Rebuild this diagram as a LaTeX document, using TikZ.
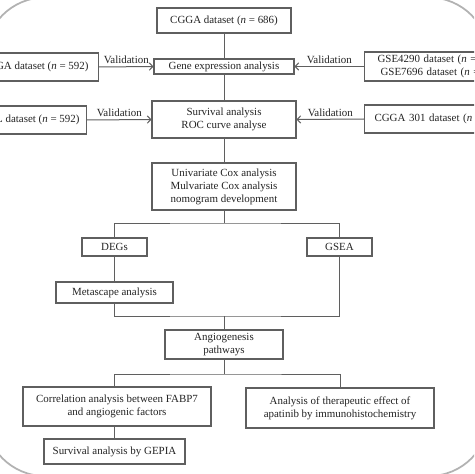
\documentclass[tikz,border=0pt]{standalone}
\usepackage{fontspec}
\setmainfont{Liberation Serif}
\usetikzlibrary{arrows.meta}
\definecolor{lnc}{RGB}{95,95,95}
\definecolor{txc}{RGB}{35,35,35}
\begin{document}
\begin{tikzpicture}[x=0.75pt,y=-0.75pt,
  every node/.style={text=txc,font=\fontsize{8.2pt}{9.8pt}\selectfont},
  box/.style={draw=lnc,line width=0.8pt,fill=white,inner sep=0pt,align=center},
  sidebox/.style={draw=lnc,line width=0.8pt,fill=white,inner ysep=0pt,minimum height=21pt},
  conn/.style={draw=lnc,line width=0.75pt},
  valarrow/.style={conn,-{Straight Barb[length=2.6pt,width=5.5pt]}},
  vlab/.style={above=0.8pt,inner sep=1pt},
  frame/.style={draw=gray!60,line width=1.3pt}]
\clip (0,0) rectangle (474,474);
\fill[white] (0,0) rectangle (474,474);
\draw[frame,rounded corners=45] (-15,-2.5) rectangle (489,476);

% main column
\node[box,minimum width=100.5pt,minimum height=18.75pt] (cgga) at (224,20.5) {CGGA dataset (\textit{n} = 686)};
\node[box,minimum width=105pt,minimum height=11.25pt] (gene) at (224,66.5) {Gene expression analysis};
\node[box,minimum width=108pt,minimum height=27.75pt] (surv) at (224,119.5) {Survival analysis\\ROC curve analyse};
\node[box,minimum width=108pt,minimum height=35.25pt] (uni) at (224,186.5) {Univariate Cox analysis\\Mulvariate Cox analysis\\nomogram development};
\node[box,minimum width=48.75pt,minimum height=13.5pt] (degs) at (114.5,247) {DEGs};
\node[box,minimum width=48.75pt,minimum height=13.5pt] (gsea) at (339.5,247) {GSEA};
\node[box,minimum width=87.75pt,minimum height=15.75pt] (meta) at (114.5,292.5) {Metascape analysis};
\node[box,minimum width=88.5pt,minimum height=21.75pt] (angio) at (224,344.5) {Angiogenesis\\pathways};
\node[box,minimum width=141pt,minimum height=29.25pt] (corr) at (117,406.5) {Correlation analysis between FABP7\\and angiogenic factors};
\node[box,minimum width=141pt,minimum height=30pt] (anal) at (340,408) {Analysis of therapeutic effect of\\apatinib by immunohistochemistry};
\node[box,minimum width=105.75pt,minimum height=18.75pt] (gepia) at (114.5,451.5) {Survival analysis by GEPIA};

% side boxes
\node[sidebox,anchor=east,inner xsep=7.5pt] (lefta) at (99,67) {GGA dataset (\textit{n} = 592)};
\node[sidebox,anchor=east,inner xsep=5.25pt] (leftb) at (87,120) {L dataset (\textit{n} = 592)};
\node[sidebox,anchor=west,inner xsep=9.75pt,text width=100pt,align=left,minimum height=21.75pt] (righta) at (364,66.5) {GSE4290 dataset (\textit{n} =\\\hspace*{2.25pt}GSE7696 dataset (\textit{n} =};
\node[sidebox,anchor=west,inner xsep=7.5pt,text width=100pt,align=left] (rightb) at (364,119) {CGGA 301 dataset (\textit{n}};

% validation arrows
\draw[valarrow] (lefta.east) -- node[vlab] {Validation} (gene.west);
\draw[valarrow] (righta.west |- gene.west) -- node[vlab] {Validation} (gene.east);
\draw[valarrow] (leftb.east) -- node[vlab] {Validation} (surv.west);
\draw[valarrow] (rightb.west) -- node[vlab] {Validation} (surv.east);

% vertical trunk
\draw[conn] (cgga) -- (gene);
\draw[conn] (gene) -- (surv);
\draw[conn] (surv) -- (uni);

% branch 1
\coordinate (b1) at (224,223);
\draw[conn] (uni.south) -- (b1);
\draw[conn] (degs.north) |- (b1) -| (gsea.north);
\draw[conn] (degs) -- (meta);

% merge
\coordinate (m1) at (224,316);
\draw[conn] (meta.south) |- (m1) -| (gsea.south);
\draw[conn] (m1) -- (angio.north);

% branch 2
\coordinate (b2) at (224,374);
\draw[conn] (angio.south) -- (b2);
\draw[conn] (corr.north -| 114.5,0) |- (b2) -| (anal.north);
\draw[conn] (corr.south -| gepia.north) -- (gepia.north);
\end{tikzpicture}
\end{document}
